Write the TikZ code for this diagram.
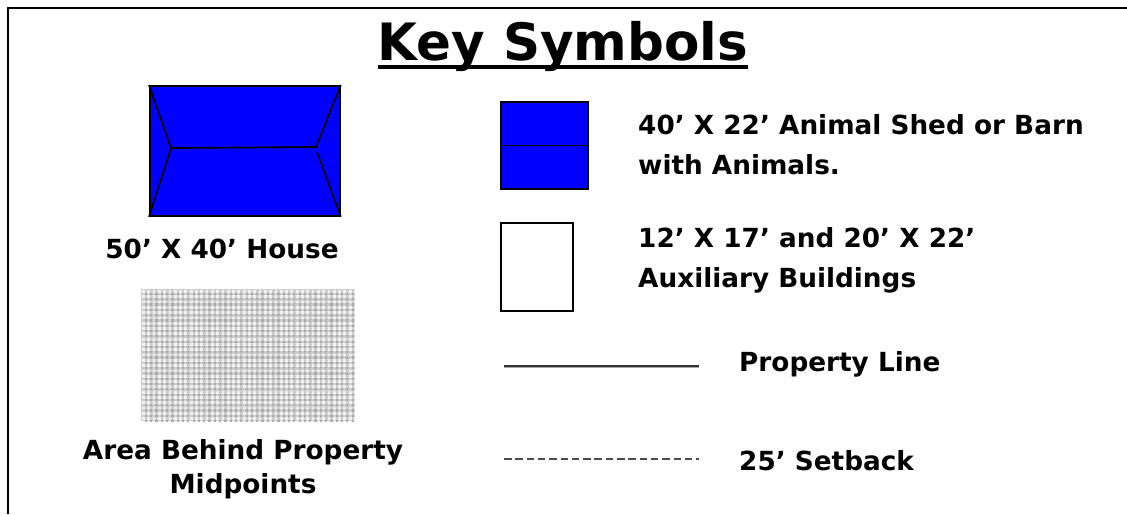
\documentclass[tikz,border=0pt]{standalone}
\usepackage{fontspec}
\setmainfont{DejaVu Sans}
\definecolor{arealight}{HTML}{F2F2F2}
\definecolor{areamid}{HTML}{CDCDCD}
\definecolor{areadark}{HTML}{ABABAB}
\tikzset{
  lab/.style={font=\bfseries\fontsize{26.3}{40}\selectfont,inner sep=0pt,align=left,text=black},
  cen/.style={lab,align=center,font=\bfseries\fontsize{26.3}{34}\selectfont},
  roofline/.style={black,line width=1.7pt},
  blk/.style={draw=black,line width=1.8pt,fill=blue}
}
\begin{document}
\begin{tikzpicture}[x=1pt,y=-1pt]
\useasboundingbox (0,0) rectangle (1127,514);
\fill[white] (0,0) rectangle (1127,514);
\coordinate (tl) at (8,8); \coordinate (tr) at (1127,8); \coordinate (bl) at (8,514);
\draw[black,line width=2pt] (bl) -- (tl) -- (tr);
\node[inner sep=0pt,font=\bfseries\fontsize{51.5}{56}\selectfont,anchor=base] (title) at (563,60) {Key Symbols};
\draw[black,line width=3.5pt] ([yshift=-7pt]title.base west) -- ([yshift=-7pt]title.base east);
% house
\node[blk,minimum width=190pt,minimum height=130pt,inner sep=0pt,anchor=north west] (house) at (149,85) {};
\coordinate (rl) at (171,148); \coordinate (rr) at (316,147); \coordinate (rr2) at (317,152);
\draw[roofline] (house.north west) -- (rl) -- (house.south west);
\draw[roofline] (rl) -- (rr) -- (house.north east);
\draw[roofline] (rr2) -- (house.south east);
\node[cen] (hl) at (222,249) {50’ X 40’ House};
% area
\begin{scope}
\clip (141,289) rectangle (355,421);
\fill[areamid] (141,289) rectangle (355,421);
\foreach \i in {0,...,40}{\foreach \j in {0,...,25}{
  \fill[arealight] ({142+\i*5.3},{290+\j*5.3}) rectangle ++(2.8,2.8);
  \fill[areadark] ({144.8+\i*5.3},{292.8+\j*5.3}) rectangle ++(2.2,2.2);
}}
\end{scope}
\node[cen] (al) at (243,469) {Area Behind Property\\Midpoints};
% barn
\node[blk,minimum width=87pt,minimum height=87pt,inner sep=0pt,anchor=north west] (barn) at (500,101) {};
\draw[black,line width=1.5pt] (barn.west) -- (barn.east);
\node[lab,anchor=west] (bl1) at (638,145) {40’ X 22’ Animal Shed or Barn\\with Animals.};
% aux
\node[draw=black,line width=1.5pt,fill=white,minimum width=72pt,minimum height=88pt,inner sep=0pt,anchor=north west] (aux) at (500,222) {};
\node[lab,anchor=west] (al1) at (638,260) {12’ X 17’ and 20’ X 22’\\Auxiliary Buildings};
% lines
\coordinate (p1) at (504,366); \coordinate (p2) at (699,366);
\draw[gray!70,line width=3pt] (p1) -- (p2);
\draw[gray!40!black,line width=1.2pt] (p1) -- (p2);
\node[lab,anchor=west] (pl) at (739,364) {Property Line};
\coordinate (s1) at (504,459); \coordinate (s2) at (699,459);
\draw[gray!60!black,line width=1.8pt,dash pattern=on 7.5pt off 3.8pt] (s1) -- (s2);
\node[lab,anchor=west] (sl) at (739,461) {25’ Setback};
\end{tikzpicture}
\end{document}
